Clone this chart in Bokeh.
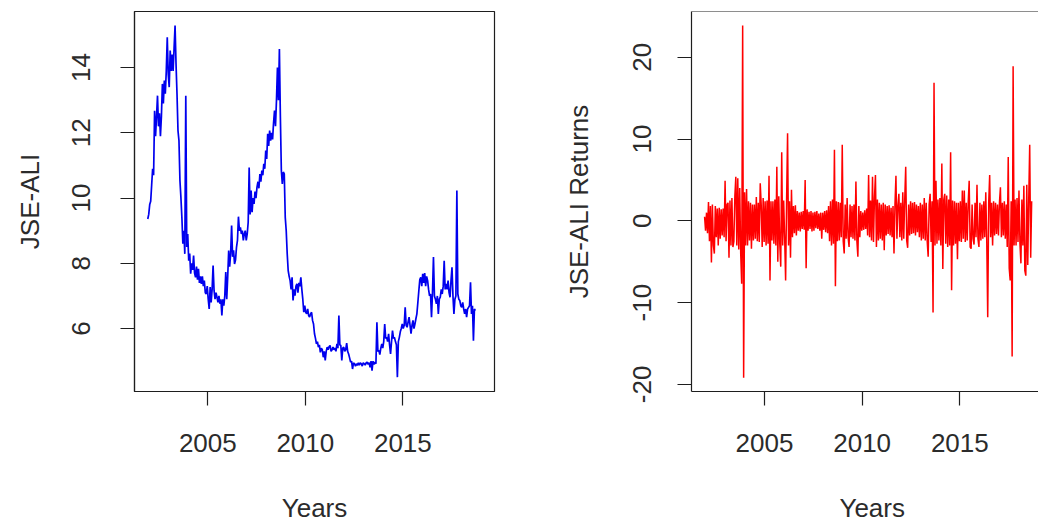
import numpy as np
from bokeh.plotting import figure
from bokeh.layouts import row
from bokeh.models import Range1d, FixedTicker, Span
from bokeh.embed import file_html
from bokeh.resources import INLINE

# ---------------- data ----------------
level_start = 2001.92   # first observation (years)
returns_start = 2001.93
step = 0.05             # spacing of the readings, years

jse_ali = [
    9.36, 9.5, 9.8, 9.9, 10.4, 10.9, 10.7, 12.68, 11.9, 12.5,
    13.14, 12.2, 12.6, 11.9, 12.5, 13.5, 12.9, 13.6, 13.2, 13.9,
    14.93, 13.8, 13.4, 14.52, 13.9, 14.4, 13.9, 14.6, 15.29, 14.1,
    13.19, 12.07, 11.76, 10.54, 10.02, 9.4, 8.6, 9.0, 8.29, 13.14,
    8.5, 8.9, 8.08, 8.3, 7.68, 8.0, 7.8, 8.24, 7.7, 7.57,
    7.9, 7.5, 7.83, 7.4, 7.6, 7.37, 7.6, 7.3, 7.47, 7.1,
    7.06, 7.3, 6.9, 6.6, 7.27, 6.8, 7.2, 7.93, 7.16, 6.9,
    7.1, 6.96, 6.8, 7.0, 6.76, 6.9, 6.4, 6.9, 6.7, 7.0,
    7.73, 6.9, 7.6, 8.39, 7.9, 8.3, 9.16, 8.2, 8.4, 7.98,
    8.1, 8.49, 8.7, 9.43, 9.0, 9.1, 8.9, 9.0, 8.7, 8.9,
    9.0, 8.7, 8.9, 9.26, 10.94, 9.5, 10.23, 9.57, 10.0, 9.82,
    10.2, 10.0, 10.33, 10.5, 10.3, 10.74, 10.5, 10.84, 10.7, 11.05,
    10.9, 11.46, 11.2, 11.97, 11.6, 12.07, 11.76, 12.0, 11.8, 12.3,
    12.68, 12.2, 12.99, 14.0, 13.0, 14.57, 12.5, 10.84, 10.43, 10.8,
    10.74, 9.41, 9.0, 8.3, 7.78, 7.6, 7.47, 7.2, 7.57, 6.86,
    7.2, 7.01, 7.3, 7.37, 7.1, 7.4, 7.3, 7.57, 7.2, 6.9,
    6.5, 6.7, 6.5, 6.45, 6.6, 6.4, 6.35, 6.45, 6.5, 6.25,
    6.14, 5.84, 5.7, 5.53, 5.6, 5.43, 5.5, 5.27, 5.4, 5.35,
    5.12, 5.3, 5.02, 5.3, 5.43, 5.35, 5.45, 5.48, 5.3, 5.35,
    5.43, 5.35, 5.4, 5.3, 5.53, 5.4, 6.4, 5.5, 5.48, 5.02,
    5.4, 5.43, 5.3, 5.35, 5.55, 5.3, 5.22, 5.1, 4.97, 5.0,
    4.76, 4.95, 4.92, 4.85, 4.92, 4.87, 4.95, 4.88, 4.95, 4.92,
    4.85, 4.95, 4.92, 4.88, 4.95, 4.97, 4.9, 4.95, 4.81, 5.0,
    4.71, 5.0, 4.9, 4.97, 4.92, 6.19, 5.3, 5.33, 5.2, 5.4,
    5.53, 5.4, 5.6, 6.14, 5.7, 5.73, 5.6, 5.84, 5.5, 5.22,
    5.6, 5.94, 5.7, 5.73, 5.6, 5.5, 4.51, 5.6, 5.73, 5.9,
    6.0, 6.14, 6.0, 6.1, 6.65, 6.1, 6.04, 6.2, 6.35, 6.1,
    5.84, 6.1, 6.25, 6.0, 6.14, 6.3, 6.45, 6.8, 7.16, 7.5,
    7.57, 7.3, 7.68, 7.4, 7.7, 7.3, 7.6, 7.47, 7.2, 7.0,
    7.06, 6.35, 7.1, 8.19, 7.0, 6.9, 6.76, 7.0, 6.45, 6.9,
    6.96, 7.2, 7.06, 7.3, 8.08, 7.2, 7.37, 7.2, 7.47, 7.1,
    6.96, 7.47, 7.88, 7.0, 6.45, 6.9, 7.0, 10.23, 7.06, 6.9,
    6.86, 6.7, 6.65, 6.8, 6.6, 6.45, 6.6, 6.35, 6.6, 6.65,
    6.7, 7.42, 6.45, 6.7, 5.63, 6.6, 6.55,
]

jse_returns = [
    0.5, -1.2, 1.0, -1.5, 2.3, -2.5, 1.8, -5.1, 2.0, -3.0,
    -4.0, 1.8, -2.0, 1.5, -3.0, 1.6, -2.2, 1.4, -1.8, 1.5,
    -2.0, 4.9, -2.5, 2.0, 2.2, -4.5, 2.5, -3.0, 2.8, -3.2,
    -2.5, 3.0, 5.4, -3.0, 5.2, -3.5, 4.0, -4.0, -7.7, 23.9,
    -19.2, 3.5, -3.0, 3.9, -3.0, 2.4, -2.4, 2.2, -3.4, 2.0,
    -2.4, 2.0, -2.2, 2.9, -2.5, 2.2, -2.6, 4.6, 2.0, -3.2,
    2.8, -2.6, 2.4, -3.0, 2.5, -2.8, 5.5, -7.3, 2.4, -2.4,
    2.4, -2.8, 2.6, -3.0, 6.6, -5.0, 3.0, -2.8, -5.6, 8.4,
    -3.0, 2.5, -2.0, -7.3, 2.5, 10.7, -3.0, 2.4, -4.5, 3.8,
    -2.0, 1.8, -1.5, 1.9, -1.8, 1.2, -1.2, 1.0, -1.3, 1.1,
    -1.0, 1.2, -1.1, 5.0, -5.8, 1.4, -1.2, 1.1, -1.0, 1.2,
    -1.3, 1.0, -1.2, 1.1, -0.9, 1.2, -1.0, 0.9, -1.2, 1.0,
    -2.2, 1.0, -1.1, 1.2, -1.4, 1.3, -1.5, 1.8, -2.5, 2.4,
    -3.0, 2.6, -2.8, 8.7, -8.0, 2.4, -2.5, 2.3, -2.4, 2.2,
    -2.0, 9.3, -2.5, -4.0, 2.0, -2.2, 2.8, -2.0, -3.2, 2.0,
    -2.0, 1.8, -2.2, 2.0, -2.4, 4.8, -2.5, -4.4, 1.8, -2.0,
    1.2, -1.2, 1.0, -1.1, 1.3, -1.0, 1.5, -1.8, 5.6, -2.0,
    2.5, -2.4, 5.4, -2.6, 2.8, 5.6, -3.2, 2.6, -2.4, 2.2,
    -2.2, 2.0, -2.4, 2.2, -3.6, 2.0, -1.8, 1.8, -1.6, 1.9,
    -1.8, 1.6, -2.0, 1.8, -4.0, 2.0, 5.5, -2.2, 1.8, 3.3,
    -2.0, 2.2, -2.4, 3.5, -2.2, 2.6, 6.6, -2.4, -3.3, 2.0,
    -1.8, 2.4, -1.6, 2.2, -1.5, 2.3, -1.8, 2.0, -1.4, 1.8,
    -2.0, 2.2, -2.4, 2.0, -2.2, 2.8, -2.4, 2.2, -2.5, -4.4,
    2.0, 3.3, -2.6, 2.4, -11.2, 16.9, -3.0, 4.9, -2.8, 2.6,
    -2.4, 2.8, -3.0, 7.0, -5.9, 2.6, 3.3, -2.8, 3.1, -3.2,
    2.6, -3.0, 8.4, -8.5, 2.5, -3.0, 2.4, -2.8, 2.2, -4.7,
    2.2, -2.5, 2.4, -2.6, 3.7, -2.2, 3.7, -2.6, 2.2, -2.4,
    2.2, 4.9, -3.2, -3.4, 2.0, -2.2, -2.9, 2.2, -2.0, 4.4,
    -2.2, -3.2, 2.2, -2.4, 2.0, -2.2, 2.4, -2.0, 3.5, -2.4,
    -11.8, 2.2, 5.6, -2.0, 2.2, -3.0, 2.4, -1.8, 2.2, -1.6,
    2.0, -1.8, 2.2, 4.1, -2.0, 2.2, -1.8, 2.4, -2.2, 2.0,
    -3.2, 7.8, -5.8, -7.3, 2.4, -16.6, 18.9, -3.0, 2.6, -3.0,
    2.8, -2.6, 3.7, -2.8, -5.2, 2.6, -3.0, 4.3, -6.1, -6.7,
    4.4, -5.4, 2.6, 9.3, -4.5, 2.4,
]

year_ticks = [2005, 2010, 2015]
level_ticks = [6, 8, 10, 12, 14]
return_ticks = [-20, -10, 0, 10, 20]
return_tick_labels = {-20: "-20", -10: "-10", 0: "0", 10: "10", 20: "20"}

level_years = level_start + step * np.arange(len(jse_ali))
return_years = returns_start + step * np.arange(len(jse_returns))

FONT = "Liberation Sans"
TXT = "#2b2b2b"
LINE = "#1e1e1e"
FS = "26px"


def style(p, xlab, ylab, yticks, tick_standoff, ylab_standoff):
    p.grid.visible = False
    p.background_fill_color = "white"
    p.border_fill_color = "white"
    for ax in (p.xaxis[0], p.yaxis[0]):
        ax.axis_line_color = LINE
        ax.axis_line_width = 1.2
        ax.major_tick_line_color = LINE
        ax.major_tick_line_width = 1.2
        ax.major_tick_out = 14
        ax.major_tick_in = 0
        ax.minor_tick_line_color = None
        ax.major_label_text_font = FONT
        ax.major_label_text_font_size = FS
        ax.major_label_text_color = TXT
        ax.axis_label_text_font = FONT
        ax.axis_label_text_font_size = FS
        ax.axis_label_text_font_style = "normal"
        ax.axis_label_text_color = TXT
    p.xaxis[0].ticker = FixedTicker(ticks=year_ticks)
    p.xaxis[0].major_label_standoff = 28
    p.xaxis[0].axis_label = xlab
    p.xaxis[0].axis_label_standoff = 38
    p.yaxis[0].ticker = FixedTicker(ticks=yticks)
    p.yaxis[0].major_label_orientation = "vertical"
    p.yaxis[0].major_label_standoff = tick_standoff
    p.yaxis[0].axis_label = ylab
    p.yaxis[0].axis_label_standoff = ylab_standoff


# ---------------- left panel: index level ----------------
p1 = figure(width=540, height=526, output_backend="svg", toolbar_location=None,
            x_range=Range1d(2001.24, 2019.70), y_range=Range1d(4.07, 15.72),
            min_border_left=134, min_border_right=46, min_border_top=11,
            min_border_bottom=135)
p1.outline_line_color = LINE
p1.outline_line_width = 1.2
p1.outline_line_alpha = 1.0
style(p1, "Years", "JSE-ALI", level_ticks, 30, 25)
p1.line(level_years, jse_ali, line_color="#0000ee", line_width=1.7)

# ---------------- right panel: returns ----------------
p2 = figure(width=498, height=526, output_backend="svg", toolbar_location=None,
            x_range=Range1d(2001.26, 2019.03), y_range=Range1d(-20.87, 25.6),
            min_border_left=151, min_border_right=0, min_border_top=11,
            min_border_bottom=135)
p2.outline_line_color = None
style(p2, "\u00a0\u00a0Years", "JSE-ALI Returns", return_ticks, 26, 37)
p2.yaxis[0].major_label_overrides = return_tick_labels
p2.add_layout(Span(location=25.6, dimension="width", line_color=LINE, line_width=1.2))
p2.line(return_years, jse_returns, line_color="#ff0000", line_width=1.5)

layout = row(p1, p2, spacing=0)
open("out.html", "w").write(file_html(layout, INLINE))
